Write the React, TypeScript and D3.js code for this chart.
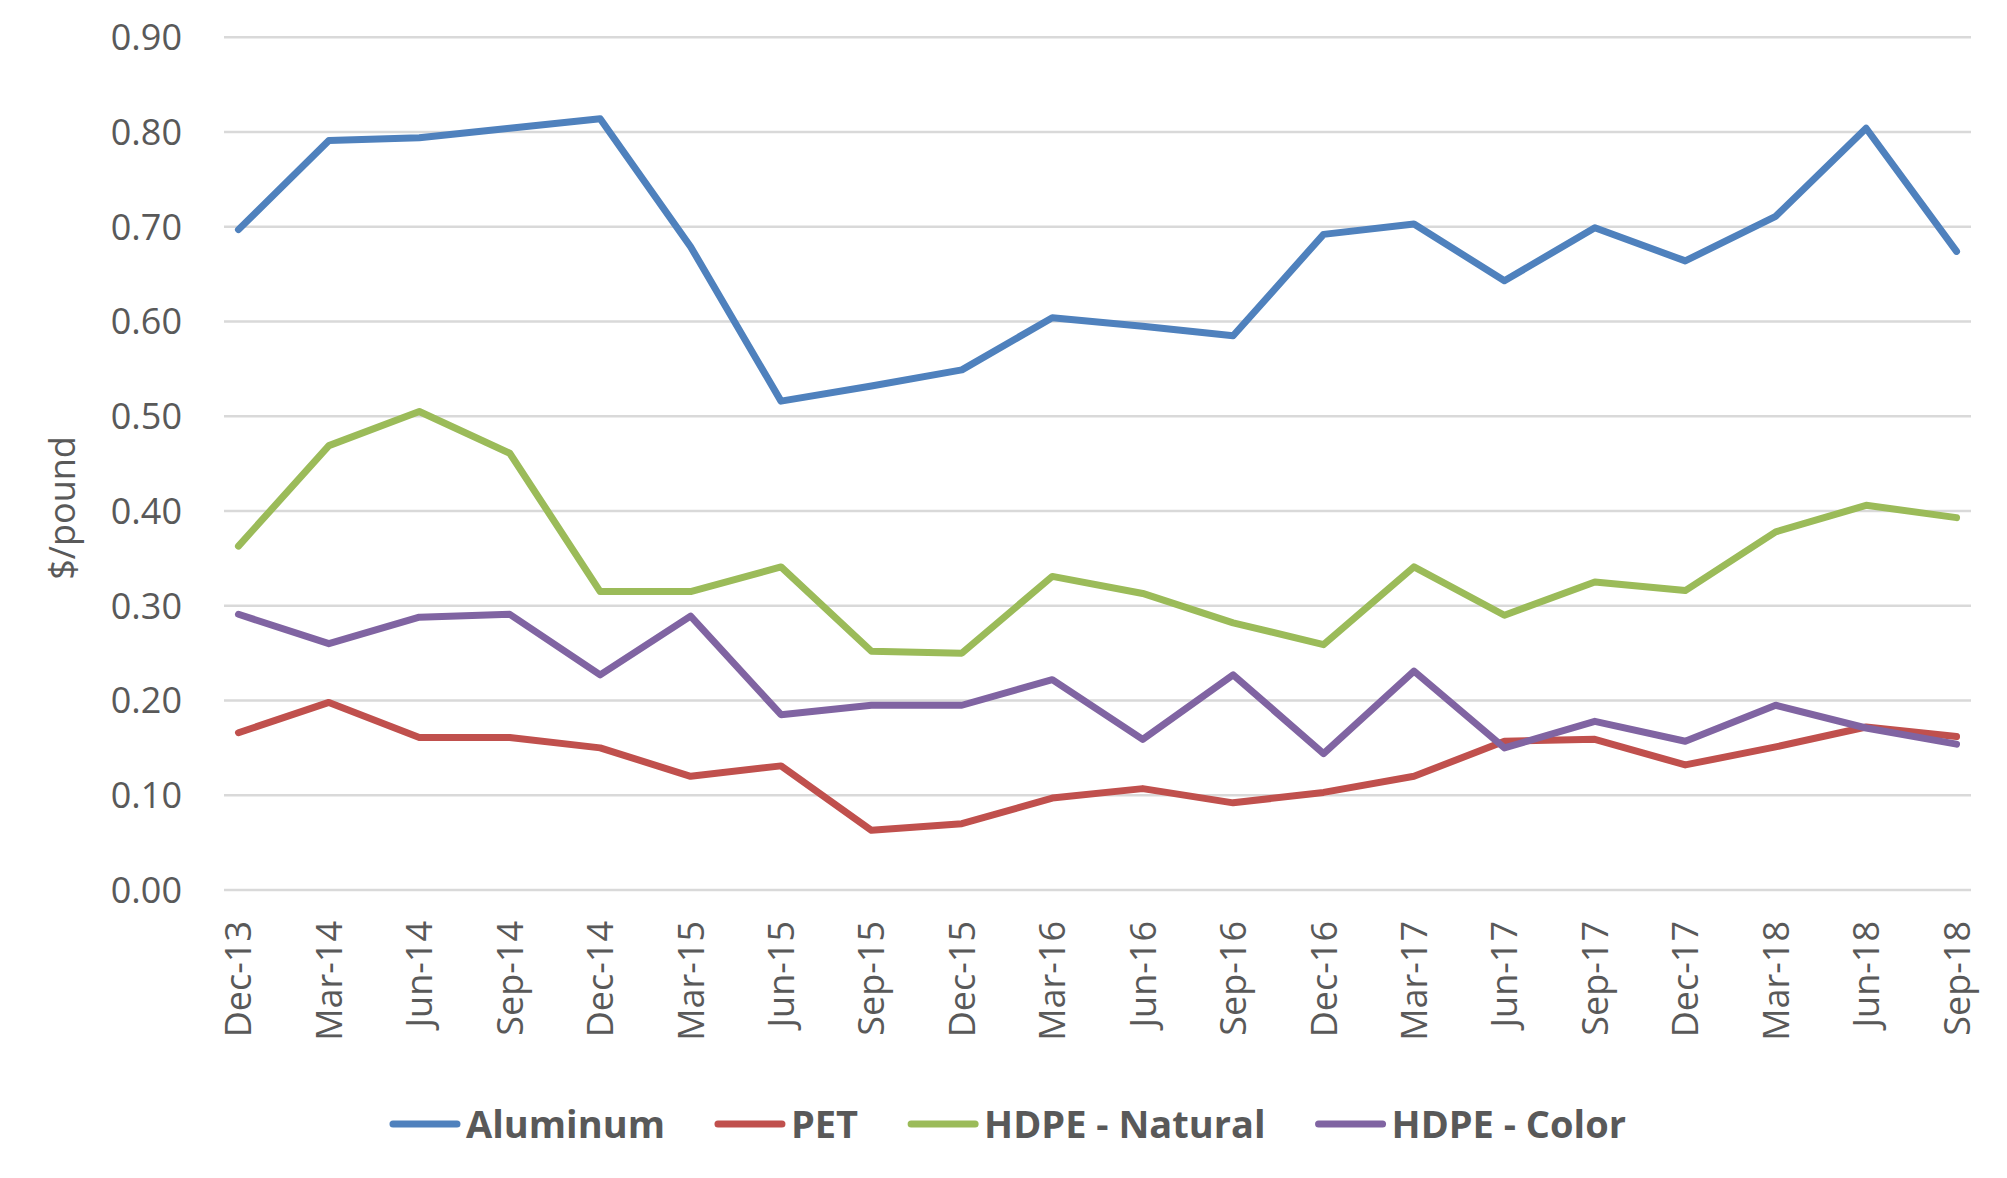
import React, { useEffect, useRef } from "react";
import * as d3 from "d3";

const categories = [
  "Dec-13", "Mar-14", "Jun-14", "Sep-14", "Dec-14", "Mar-15", "Jun-15", "Sep-15", "Dec-15", "Mar-16",
  "Jun-16", "Sep-16", "Dec-16", "Mar-17", "Jun-17", "Sep-17", "Dec-17", "Mar-18", "Jun-18", "Sep-18",
];

const aluminum = [
  0.697, 0.791, 0.794, 0.804, 0.814, 0.679, 0.516, 0.532, 0.549, 0.604,
  0.595, 0.585, 0.692, 0.703, 0.643, 0.699, 0.664, 0.711, 0.804, 0.674,
];
const pet = [
  0.166, 0.198, 0.161, 0.161, 0.15, 0.12, 0.131, 0.063, 0.07, 0.097,
  0.107, 0.092, 0.103, 0.12, 0.157, 0.159, 0.132, 0.151, 0.172, 0.162,
];
const hdpeNatural = [
  0.363, 0.469, 0.505, 0.461, 0.315, 0.315, 0.341, 0.252, 0.25, 0.331,
  0.313, 0.282, 0.259, 0.341, 0.29, 0.325, 0.316, 0.378, 0.406, 0.393,
];
const hdpeColor = [
  0.291, 0.26, 0.288, 0.291, 0.227, 0.289, 0.185, 0.195, 0.195, 0.222,
  0.159, 0.227, 0.144, 0.231, 0.15, 0.178, 0.157, 0.195, 0.171, 0.154,
];

const seriesNames = ["Aluminum", "PET", "HDPE - Natural", "HDPE - Color"];
const seriesColors = ["#4F81BD", "#C0504D", "#9BBB59", "#8064A2"];
const yTicks = [0, 0.1, 0.2, 0.3, 0.4, 0.5, 0.6, 0.7, 0.8, 0.9];
const yTitle = "$/pound";

const W = 2007;
const H = 1178;
const FONT = "'Open Sans', 'Liberation Sans', sans-serif";
const TEXT = "#595959";

export default function App() {
  const ref = useRef<SVGSVGElement | null>(null);

  useEffect(() => {
    document.body.style.margin = "0";
    const svg = d3.select(ref.current);
    svg.selectAll("*").remove();

    const x = d3.scalePoint<string>().domain(categories).range([224, 1971]).padding(0.16);
    const y = d3.scaleLinear().domain([0, 0.9]).range([890, 37.3]);

    // gridlines
    svg
      .append("g")
      .selectAll("line")
      .data(yTicks)
      .enter()
      .append("line")
      .attr("x1", 224)
      .attr("x2", 1971)
      .attr("y1", (d) => y(d))
      .attr("y2", (d) => y(d))
      .attr("stroke", "#D9D9D9")
      .attr("stroke-width", 2.5);

    // y tick labels
    svg
      .append("g")
      .selectAll("text")
      .data(yTicks)
      .enter()
      .append("text")
      .attr("x", 182)
      .attr("y", (d) => y(d))
      .attr("dy", "0.36em")
      .attr("text-anchor", "end")
      .attr("font-family", FONT)
      .attr("font-size", 36)
      .attr("fill", TEXT)
      .text((d) => d3.format(".2f")(d));

    // y title
    svg
      .append("text")
      .attr("transform", "translate(63, 508) rotate(-90)")
      .attr("dy", "0.32em")
      .attr("text-anchor", "middle")
      .attr("font-family", FONT)
      .attr("font-size", 36)
      .attr("fill", TEXT)
      .text(yTitle);

    // x labels
    svg
      .append("g")
      .selectAll("text")
      .data(categories)
      .enter()
      .append("text")
      .attr("transform", (d) => `translate(${x(d)}, 921) rotate(-90)`)
      .attr("dy", "0.36em")
      .attr("text-anchor", "end")
      .attr("font-family", FONT)
      .attr("font-size", 36)
      .attr("fill", TEXT)
      .text((d) => d);

    // lines
    const allSeries = [aluminum, pet, hdpeNatural, hdpeColor];
    const line = d3
      .line<number>()
      .x((d, i) => x(categories[i]) as number)
      .y((d) => y(d));

    svg
      .append("g")
      .selectAll("path")
      .data(allSeries)
      .enter()
      .append("path")
      .attr("d", (d) => line(d))
      .attr("fill", "none")
      .attr("stroke", (d, i) => seriesColors[i])
      .attr("stroke-width", 7)
      .attr("stroke-linejoin", "round")
      .attr("stroke-linecap", "round");

    // legend
    const legend = svg.append("g");
    const swatch = 70;
    const gap = 6;
    const spacing = 50;
    let cursor = 0;
    seriesNames.forEach((name, i) => {
      const item = legend.append("g").attr("transform", `translate(${cursor}, 0)`);
      item
        .append("line")
        .attr("x1", 3)
        .attr("x2", swatch - 3)
        .attr("y1", 1124)
        .attr("y2", 1124)
        .attr("stroke", seriesColors[i])
        .attr("stroke-width", 7)
        .attr("stroke-linecap", "round");
      const t = item
        .append("text")
        .attr("x", swatch + gap)
        .attr("y", 1124)
        .attr("dy", "0.36em")
        .attr("font-family", FONT)
        .attr("font-size", 38)
        .attr("font-weight", "bold")
        .attr("fill", TEXT)
        .text(name);
      const w = (t.node() as SVGTextElement).getComputedTextLength();
      cursor += swatch + gap + w + spacing;
    });
    const total = cursor - spacing;
    legend.attr("transform", `translate(${1008 - total / 2}, 0)`);
  }, []);

  return <svg ref={ref} width={W} height={H} style={{ display: "block", background: "#fff" }} />;
}
